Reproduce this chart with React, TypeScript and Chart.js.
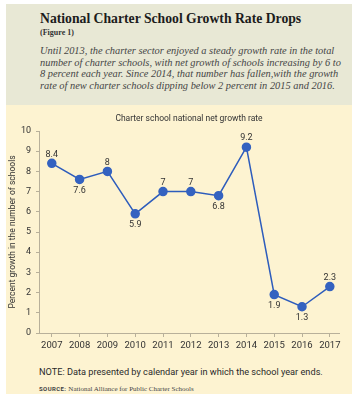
import React, { useEffect, useRef } from "react";
import { Chart, registerables } from "chart.js";

Chart.register(...registerables);

const years = [2007, 2008, 2009, 2010, 2011, 2012, 2013, 2014, 2015, 2016, 2017];
const growthRate = [8.4, 7.6, 8, 5.9, 7, 7, 6.8, 9.2, 1.9, 1.3, 2.3];
const yTicks = [0, 1, 2, 3, 4, 5, 6, 7, 8, 9, 10];

const chartTitle = "Charter school national net growth rate";
const yTitle = "Percent growth in the number of schools";
const headline = "National Charter School Growth Rate Drops";
const figureLabel = "(Figure 1)";
const introLines = [
  "Until 2013, the charter sector enjoyed a steady growth rate in the total",
  "number of charter schools, with net growth of schools increasing by 6 to",
  "8 percent each year. Since 2014, that number has fallen,with the growth",
  "rate of new charter schools dipping below 2 percent in 2015 and 2016.",
];
const noteText = "NOTE: Data presented by calendar year in which the school year ends.";
const sourceLabel = "SOURCE:";
const sourceText = "National Alliance for Public Charter Schools";

const SANS = "Roboto";
const LINE = "#2d5cbc";
const POINT = "#3462c0";
const AXIS = "#b8b09a";
const TEXT = "#333333";

const titlePlugin = {
  id: "customTitle",
  afterDraw(chart: any) {
    const { ctx, chartArea } = chart;
    ctx.save();
    ctx.font = `8.5px ${SANS}`;
    ctx.fillStyle = TEXT;
    ctx.textAlign = "center";
    ctx.textBaseline = "middle";
    ctx.fillText(chartTitle, (chartArea.left + chartArea.right) / 2, 14);
    ctx.restore();
  },
};

const labelPlugin = {
  id: "pointLabels",
  afterDatasetsDraw(chart: any) {
    const { ctx } = chart;
    const meta = chart.getDatasetMeta(0);
    ctx.save();
    ctx.font = `9px ${SANS}`;
    ctx.fillStyle = TEXT;
    ctx.textAlign = "center";
    ctx.textBaseline = "middle";
    meta.data.forEach((pt: any, i: number) => {
      const v = growthRate[i];
      const below = i > 0 && v < growthRate[i - 1];
      ctx.fillText(String(v), pt.x, pt.y + (below ? 11 : -9));
    });
    ctx.restore();
  },
};

export default function App() {
  const ref = useRef<HTMLCanvasElement | null>(null);

  useEffect(() => {
    if (!ref.current) return;
    const chart = new Chart(ref.current, {
      type: "line",
      data: {
        datasets: [
          {
            data: years.map((y, i) => ({ x: y, y: growthRate[i] })),
            borderColor: LINE,
            backgroundColor: POINT,
            pointBackgroundColor: POINT,
            pointBorderColor: POINT,
            pointRadius: 4,
            borderWidth: 1.5,
            tension: 0,
          },
        ],
      },
      options: {
        responsive: false,
        animation: false,
        layout: { padding: { top: 26, right: 13, left: 0, bottom: 0 } },
        plugins: { legend: { display: false }, tooltip: { enabled: false }, title: { display: false } },
        scales: {
          x: {
            type: "linear",
            min: 2006.54,
            max: 2017.33,
            afterBuildTicks: (scale: any) => {
              scale.ticks = years.map((v) => ({ value: v }));
            },
            afterFit: (scale: any) => {
              scale.height = 27;
            },
            ticks: {
              callback: (v: any) => String(v),
              font: { family: SANS, size: 9.5 },
              color: TEXT,
              padding: 3,
              maxRotation: 0,
              autoSkip: false,
            },
            grid: { drawOnChartArea: false, drawTicks: true, tickLength: 4, color: AXIS },
            border: { color: AXIS, width: 1 },
          },
          y: {
            min: 0,
            max: 10,
            afterBuildTicks: (scale: any) => {
              scale.ticks = yTicks.map((v) => ({ value: v }));
            },
            afterFit: (scale: any) => {
              scale.width = 33;
            },
            ticks: {
              font: { family: SANS, size: 9 },
              color: TEXT,
              padding: 5,
            },
            title: {
              display: true,
              text: yTitle,
              font: { family: SANS, size: 8.5 },
              color: TEXT,
              padding: { top: 2, bottom: 0 },
            },
            grid: { drawOnChartArea: false, drawTicks: true, tickLength: 3, color: AXIS },
            border: { color: AXIS, width: 1 },
          },
        },
      },
      plugins: [titlePlugin, labelPlugin],
    } as any);
    return () => chart.destroy();
  }, []);

  return (
    <div style={{ position: "absolute", left: 0, top: 0, width: 358, height: 400, background: "#ffffff" }}>
      <div
        style={{
          position: "absolute",
          left: 6,
          top: 4,
          width: 346,
          height: 390,
          background: "#fdf3d1",
          overflow: "hidden",
        }}
      >
        <div style={{ position: "relative", height: 101, background: "#e8e8d5" }}>
          <div
            style={{
              position: "absolute",
              left: 34,
              top: 7,
              font: 'bold 13.7px/16px "Liberation Serif"',
              color: "#1c1c1c",
              whiteSpace: "nowrap",
            }}
          >
            {headline}
          </div>
          <div
            style={{
              position: "absolute",
              left: 34,
              top: 24,
              font: 'bold 8px/10px "Liberation Serif"',
              color: "#333",
              whiteSpace: "nowrap",
            }}
          >
            {figureLabel}
          </div>
          <div
            style={{
              position: "absolute",
              left: 34,
              top: 41,
              font: 'italic 10.4px/11.5px "Liberation Serif"',
              color: "#454545",
              whiteSpace: "nowrap",
            }}
          >
            {introLines.map((l, i) => (
              <div key={i}>{l}</div>
            ))}
          </div>
        </div>
        <canvas ref={ref} width={346} height={255} style={{ display: "block", width: 346, height: 255 }} />
        <div
          style={{
            position: "absolute",
            left: 33,
            top: 362,
            font: `9.2px/11px ${SANS}`,
            color: "#2a2a2a",
            whiteSpace: "nowrap",
          }}
        >
          {noteText}
        </div>
        <div
          style={{
            position: "absolute",
            left: 33,
            top: 377,
            whiteSpace: "nowrap",
            lineHeight: "9px",
            color: "#444",
          }}
        >
          <span style={{ font: `bold 6px ${SANS}`, letterSpacing: 0.4 }}>{sourceLabel} </span>
          <span style={{ font: '7px "Liberation Serif"' }}>{sourceText}</span>
        </div>
      </div>
    </div>
  );
}
